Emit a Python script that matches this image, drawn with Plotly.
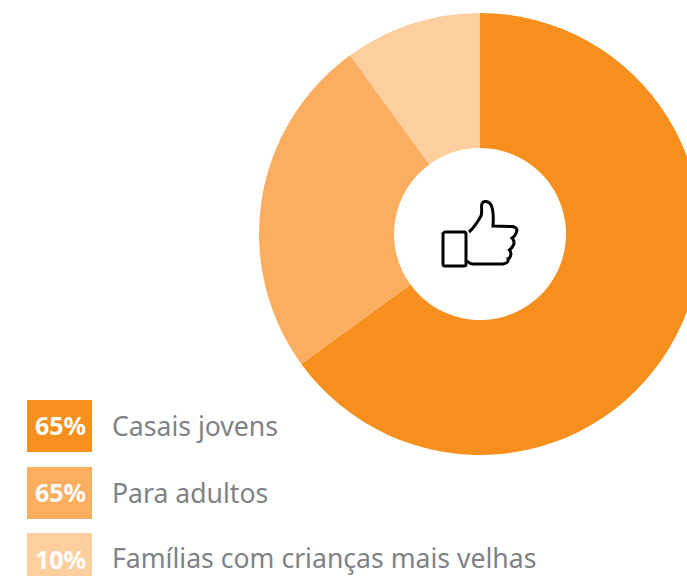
import plotly.graph_objects as go

categories = ["Casais jovens", "Para adultos", "Famílias com crianças mais velhas"]
slice_values = [65, 25, 10]
legend_labels = ["65%", "65%", "10%"]
colors = ["#F78F1E", "#FBAE5F", "#FDCE9E"]

W, H = 720, 576
def px(x): return x / W
def py(y): return 1 - y / H
def pt(p): return f"{px(p[0]):.5f},{py(p[1]):.5f}"

fig = go.Figure(go.Pie(
    labels=categories, values=slice_values, sort=False, direction="clockwise", rotation=0,
    hole=86 / 221, textinfo="none", hoverinfo="label+percent",
    marker=dict(colors=colors, line=dict(width=0)),
    domain=dict(x=[px(259), px(701)], y=[py(455), py(13)]),
    showlegend=False,
))

shapes, annotations = [], []
tops = [400, 467, 533]
bottoms = [452, 519, 585]
mids = [425, 492, 559]
text_mids = [426, 493, 558]
for i, cat in enumerate(categories):
    shapes.append(dict(type="rect", xref="paper", yref="paper", x0=px(27), x1=px(92),
                       y0=py(bottoms[i]), y1=py(tops[i]), fillcolor=colors[i], line=dict(width=0), layer="below"))
    annotations.append(dict(text=f"<b>{legend_labels[i]}</b>", xref="paper", yref="paper", x=px(60.5), y=py(mids[i]),
                            xanchor="center", yanchor="middle", showarrow=False, borderpad=0,
                            font=dict(family="Noto Sans", size=25, color="white")))
    annotations.append(dict(text=cat, xref="paper", yref="paper", x=px(111), y=py(text_mids[i]),
                            xanchor="left", yanchor="middle", showarrow=False, borderpad=0,
                            font=dict(family="Noto Sans", size=26.6, color="#808285")))

# thumbs-up icon: each segment is (control, end) of a quadratic curve
def curve(start, segments, closed=False):
    s = "M" + pt(start)
    for c, e in segments:
        s += f" Q{pt(c)} {pt(e)}"
    return s + (" Z" if closed else "")

box = curve((445, 232), [
    ((444.5, 232), (443, 233.5)), ((443, 249), (443, 264)), ((443, 266), (445, 266)),
    ((455, 266), (464, 266)), ((466, 266), (466, 264)), ((466, 249), (466, 234)), ((466, 232), (464, 232)),
    ((455, 232), (445, 232))], closed=True)
hand = curve((469, 232), [
    ((474, 228), (481, 216)), ((482, 213), (481.5, 206)), ((482, 201), (486, 201.5)),
    ((490, 202), (491.5, 206)), ((494, 213), (493, 226)), ((503, 226.5), (513, 226.5)),
    ((518, 228), (516.5, 232)), ((515.5, 236), (512, 238)), ((515, 241), (513.5, 245)),
    ((512, 248), (509.5, 250)), ((512, 253), (510, 257)), ((509, 259), (508, 259)),
    ((509, 263), (503, 264)), ((488, 264), (473, 264)), ((470, 264), (467, 261))])
icon = dict(type="path", xref="paper", yref="paper", line=dict(color="black", width=3), layer="above")
shapes.append(dict(icon, path=box))
shapes.append(dict(icon, path=hand))

fig.update_layout(width=W, height=H, margin=dict(l=0, r=0, t=0, b=0), paper_bgcolor="white",
                  shapes=shapes, annotations=annotations)
fig.write_html("out.html", default_width=f"{W}px", default_height=f"{H}px", config=dict(displayModeBar=False),
               post_script="document.body.style.margin='0';document.documentElement.style.overflow='hidden';document.body.style.overflow='hidden';")
